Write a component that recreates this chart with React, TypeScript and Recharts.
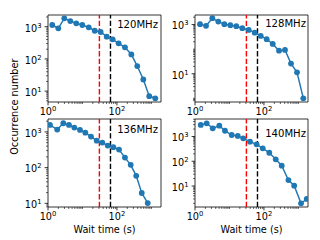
import React from 'react'
import { LineChart, Line, XAxis, YAxis, ReferenceLine, ReferenceArea } from 'recharts'

// wait-time bins (s) and occurrence counts
const wait120 = [1.33, 1.99, 2.97, 4.44, 6.62, 9.9, 15.2, 22.7, 33.7, 50.5, 75.2, 112, 171, 262, 389, 583, 867, 1297]
const count120 = [1130, 890, 1820, 1500, 1275, 1130, 955, 750, 685, 490, 405, 304, 229, 138, 60, 23, 7, 6]

const wait128 = [1.4, 2.09, 3.18, 4.74, 7.1, 10.6, 15.8, 23.6, 36.1, 54, 80.7, 120, 180, 274, 409, 611, 912, 1390]
const count128 = [1040, 885, 1820, 1325, 1040, 945, 860, 713, 607, 470, 345, 254, 163, 87, 93, 26, 11.4, 1.0]

const wait136 = [1.14, 1.85, 2.78, 4.06, 5.81, 8.49, 12.1, 17.7, 25.9, 37.7, 54.1, 78.7, 115, 171, 251, 363, 525, 782]
const count136 = [1570, 1160, 1750, 1570, 1320, 1140, 955, 740, 570, 503, 414, 374, 320, 191, 120, 59, 19.5, 10.2]

const wait140 = [1.47, 2.18, 3.27, 5.07, 7.41, 11.6, 17.4, 25.1, 39.4, 61.2, 92.3, 143, 220, 328, 513, 755, 1194, 1746]
const count140 = [2920, 3410, 2140, 2730, 1710, 1150, 1050, 845, 617, 484, 333, 221, 120, 66, 17.4, 10.3, 2.0, 3.0]

const freqLabels = ['120MHz', '128MHz', '136MHz', '140MHz']
const xLabeled = [1, 100]
const yLabeled = [[10, 100, 1000], [10, 1000], [10, 100, 1000], [10, 100, 1000]]
const redCut = 31
const blackCut = 65

const X_DOMAIN: [number, number] = [1, 1900]
const FONT = 'DejaVu Sans'
const FS = 9.7

const series = [
  { xs: wait120, ys: count120 },
  { xs: wait128, ys: count128 },
  { xs: wait136, ys: count136 },
  { xs: wait140, ys: count140 },
]

// plot-area boxes in page pixels
const layout = [
  { x: 48, y: 15, w: 113, h: 87, yDomain: [4.6, 2310], lx: 158, ly: 24.2 },
  { x: 195, y: 15, w: 113, h: 87, yDomain: [0.71, 2450], lx: 306, ly: 23.3 },
  { x: 48, y: 119, w: 113, h: 88, yDomain: [7.9, 2300], lx: 158, ly: 129.5 },
  { x: 195, y: 119, w: 113, h: 88, yDomain: [1.42, 5090], lx: 306, ly: 133.8 },
]

// 1..9 x 10^k inside a range, for log tick marks
function logTicks(lo: number, hi: number) {
  const out: number[] = []
  for (let k = -1; k <= 4; k++) {
    for (let m = 1; m <= 9; m++) {
      const v = Number((m * Math.pow(10, k)).toPrecision(6))
      if (v >= lo && v <= hi) out.push(v)
    }
  }
  return out
}

const expOf = (v: number) => Math.round(Math.log10(v))

function YTick(props: any) {
  const { x, y, payload, labeled } = props
  const v = payload.value
  const major = labeled.includes(v)
  return (
    <g>
      <line x1={x} x2={x - (major ? 3.4 : 2)} y1={y} y2={y} stroke="#000" strokeWidth={major ? 0.8 : 0.6} />
      {major && (
        <text x={x - 6.5} y={y + 4.8} textAnchor="end" fontFamily={FONT} fontSize={FS} fill="#000">
          10<tspan dy={-4} fontSize={6.8}>{expOf(v)}</tspan>
        </text>
      )}
    </g>
  )
}

function XTick(props: any) {
  const { x, y, payload } = props
  const v = payload.value
  const major = xLabeled.includes(v)
  return (
    <g>
      <line x1={x} x2={x} y1={y} y2={y + (major ? 3.4 : 2)} stroke="#000" strokeWidth={major ? 0.8 : 0.6} />
      {major && (
        <text x={x} y={y + 12.8} textAnchor="middle" fontFamily={FONT} fontSize={FS} fill="#000">
          10<tspan dy={-4} fontSize={6.8}>{expOf(v)}</tspan>
        </text>
      )}
    </g>
  )
}

function Panel({ idx }: { idx: number }) {
  const L = layout[idx]
  const s = series[idx]
  const data = s.xs.map((x, i) => ({ x, y: s.ys[i] }))
  const yTicks = logTicks(L.yDomain[0], L.yDomain[1])
  const xTicks = logTicks(X_DOMAIN[0], X_DOMAIN[1])
  return (
    <div style={{ position: 'absolute', left: 0, top: 0 }}>
      <LineChart
        width={320}
        height={240}
        data={data}
        margin={{ top: L.y, right: 320 - L.x - L.w, bottom: 240 - L.y - L.h - 20, left: L.x - 40 }}
      >
        <XAxis
          dataKey="x"
          type="number"
          scale="log"
          domain={X_DOMAIN}
          allowDataOverflow
          ticks={xTicks}
          interval={0}
          tickSize={0}
          tickMargin={0}
          tickLine={false}
          axisLine={false}
          height={20}
          tick={(p: any) => <XTick {...p} />}
        />
        <YAxis
          type="number"
          scale="log"
          domain={L.yDomain}
          allowDataOverflow
          ticks={yTicks}
          interval={0}
          tickSize={0}
          tickMargin={0}
          tickLine={false}
          axisLine={false}
          width={40}
          tick={(p: any) => <YTick {...p} labeled={yLabeled[idx]} />}
        />
        <ReferenceArea
          x1={X_DOMAIN[0]}
          x2={X_DOMAIN[1]}
          y1={L.yDomain[0]}
          y2={L.yDomain[1]}
          fill="none"
          fillOpacity={0}
          stroke="#000"
          strokeWidth={0.8}
        />
        <ReferenceLine x={redCut} stroke="#ff0000" strokeWidth={1.4} strokeDasharray="5.3 2.3" />
        <ReferenceLine x={blackCut} stroke="#000" strokeWidth={1.4} strokeDasharray="5.3 2.3" />
        <Line
          dataKey="y"
          stroke="#1f77b4"
          strokeWidth={1.45}
          dot={{ r: 2.9, fill: '#1f77b4', stroke: '#1f77b4', strokeWidth: 0 }}
          activeDot={false}
          isAnimationActive={false}
        />
      </LineChart>
    </div>
  )
}

export default function App() {
  return (
    <div style={{ position: 'absolute', left: 0, top: 0, width: 320, height: 240, background: '#fff' }}>
      {[0, 1, 2, 3].map((i) => (
        <Panel key={i} idx={i} />
      ))}
      <svg width={320} height={240} style={{ position: 'absolute', left: 0, top: 0, pointerEvents: 'none' }}>
        {layout.map((L, i) => (
          <text key={i} x={L.lx} y={L.ly + 3.6} textAnchor="end" fontFamily={FONT} fontSize={10.1} fill="#000">
            {freqLabels[i]}
          </text>
        ))}
        <text transform="translate(17.5,106.7) rotate(-90)" textAnchor="middle" fontFamily={FONT} fontSize={FS} fill="#000">
          Occurrence number
        </text>
        <text x={104.5} y={233.3} textAnchor="middle" fontFamily={FONT} fontSize={FS} fill="#000">
          Wait time (s)
        </text>
        <text x={251.5} y={233.3} textAnchor="middle" fontFamily={FONT} fontSize={FS} fill="#000">
          Wait time (s)
        </text>
      </svg>
    </div>
  )
}
